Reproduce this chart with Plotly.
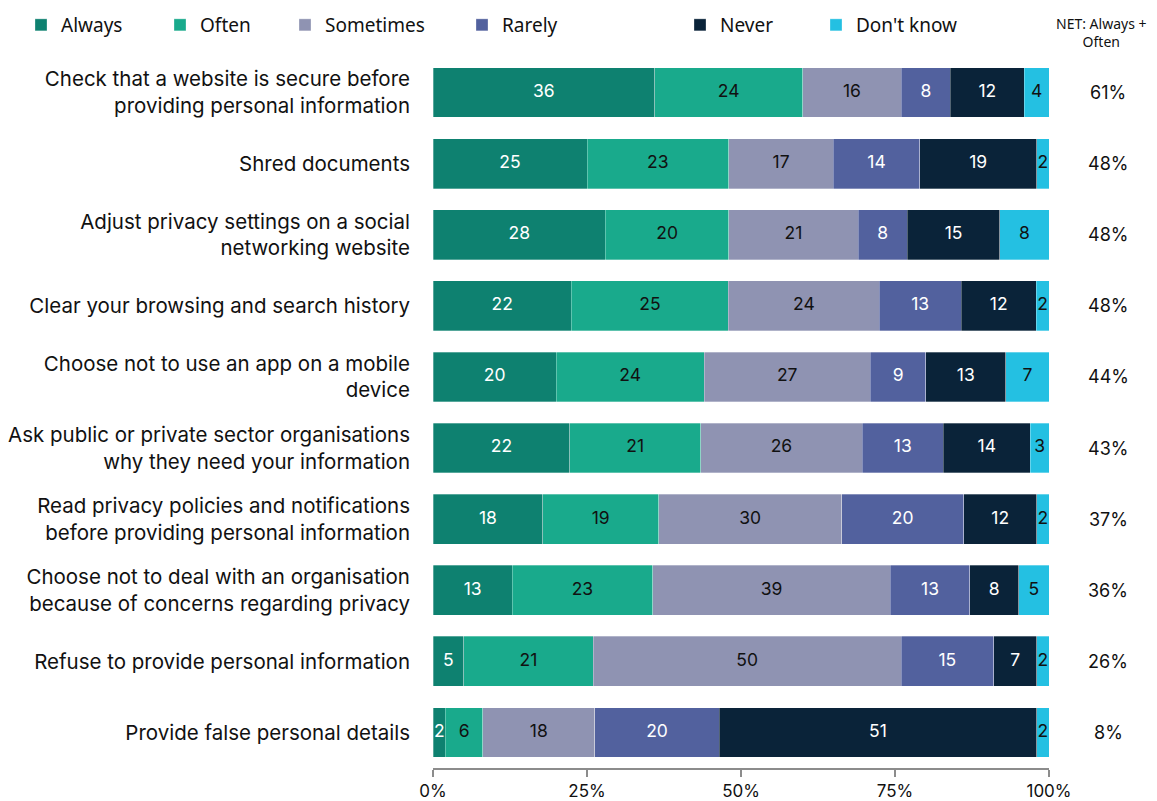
import plotly.graph_objects as go

categories = [
    "Check that a website is secure before<br>providing personal information",
    "Shred documents",
    "Adjust privacy settings on a social<br>networking website",
    "Clear your browsing and search history",
    "Choose not to use an app on a mobile<br>device",
    "Ask public or private sector organisations<br>why they need your information",
    "Read privacy policies and notifications<br>before providing personal information",
    "Choose not to deal with an organisation<br>because of concerns regarding privacy",
    "Refuse to provide personal information",
    "Provide false personal details",
]

always = [36, 25, 28, 22, 20, 22, 18, 13, 5, 2]
often = [24, 23, 20, 25, 24, 21, 19, 23, 21, 6]
sometimes = [16, 17, 21, 24, 27, 26, 30, 39, 50, 18]
rarely = [8, 14, 8, 13, 9, 13, 20, 13, 15, 20]
never = [12, 19, 15, 12, 13, 14, 12, 8, 7, 51]
dont_know = [4, 2, 8, 2, 7, 3, 2, 5, 2, 2]
net_always_often = [61, 48, 48, 48, 44, 43, 37, 36, 26, 8]

x_ticks = [0, 25, 50, 75, 100]

series = [
    ("Always", always, "#0e8170", "white"),
    ("Often", often, "#19aa8c", "#111111"),
    ("Sometimes", sometimes, "#8f93b2", "#111111"),
    ("Rarely", rarely, "#52619e", "white"),
    ("Never", never, "#0a2339", "white"),
    ("Don't know", dont_know, "#24c0e2", "#111111"),
]

# legend text start positions in pixels (reference)
legend_text_px = [62, 201, 326, 503, 721, 857]
PW, PH = 1157, 801
L, R = 433, 1049
T, B = 57, 33
W = R - L

totals = [sum(s[1][k] for s in series) for k in range(len(categories))]

fig = go.Figure()
for i, (name, vals, color, tcolor) in enumerate(series):
    leg = "legend" if i == 0 else f"legend{i+1}"
    fig.add_trace(go.Bar(
        name=name,
        y=categories,
        x=vals,
        orientation="h",
        marker=dict(color=color, line=dict(width=0.6, color="rgba(255,255,255,0.5)")),
        textposition="none",
        legend=leg,
        showlegend=True,
        customdata=vals,
        hovertemplate="%{y}<br>" + name + ": %{customdata}<extra></extra>",
    ))

# segment labels, centred on each (normalised) segment
cum = [0.0] * len(categories)
for i, (name, vals, color, tcolor) in enumerate(series):
    centers = []
    for k, v in enumerate(vals):
        share = v / totals[k] * 100
        centers.append(cum[k] + share / 2)
        cum[k] += share
    fig.add_trace(go.Scatter(
        x=centers,
        y=categories,
        mode="text",
        text=[str(v) for v in vals],
        textposition="middle center",
        textfont=dict(color=tcolor, size=17.5, family="Inter"),
        showlegend=False,
        hoverinfo="skip",
        cliponaxis=False,
    ))

layout_legends = {}
for i in range(len(series)):
    key = "legend" if i == 0 else f"legend{i+1}"
    layout_legends[key] = dict(
        x=(legend_text_px[i] - 41) / PW,
        xanchor="left",
        xref="container",
        y=1 - 25 / PH,
        yanchor="middle",
        yref="container",
        orientation="h",
        font=dict(size=19, family="Noto Sans", color="#111111"),
        bgcolor="rgba(0,0,0,0)",
        itemclick=False,
        itemdoubleclick=False,
    )

fig.update_layout(
    showlegend=True,
    barmode="stack",
    barnorm="percent",
    bargap=0.3,
    width=PW,
    height=PH,
    margin=dict(l=L, r=PW - R, t=T, b=B, autoexpand=False),
    plot_bgcolor="white",
    paper_bgcolor="white",
    font=dict(family="Inter", color="#111111"),
    **layout_legends,
)

fig.update_yaxes(
    autorange="reversed",
    showgrid=False,
    ticks="",
    showline=False,
    automargin=False,
    tickfont=dict(size=20.5, family="Inter", color="#111111"),
    ticklabelstandoff=22,
)
fig.update_xaxes(
    range=[0, 100],
    tickvals=x_ticks,
    ticktext=[f"{t}%" for t in x_ticks],
    showgrid=False,
    zeroline=False,
    showline=True,
    linecolor="#8c8c8c",
    linewidth=1.5,
    ticks="outside",
    ticklen=7,
    tickcolor="#8c8c8c",
    tickwidth=1.5,
    automargin=False,
    tickfont=dict(size=17, family="Inter", color="#111111"),
)

for cat, net in zip(categories, net_always_often):
    fig.add_annotation(
        x=(1108 - L) / W, xref="paper",
        y=cat, yref="y",
        text=f"{net}%",
        showarrow=False,
        font=dict(size=18, family="Inter", color="#111111"),
        xanchor="center",
    )

fig.add_annotation(
    x=(1101 - L) / W, xref="paper",
    y=1.0, yref="paper", yanchor="bottom", yshift=4,
    text="NET: Always +<br>Often",
    showarrow=False,
    font=dict(size=14, family="Noto Sans", color="#111111"),
    xanchor="center",
)

fig.write_html(
    "out.html",
    config={"displayModeBar": False},
    post_script="document.body.style.margin='0';document.body.style.overflow='hidden';",
)
